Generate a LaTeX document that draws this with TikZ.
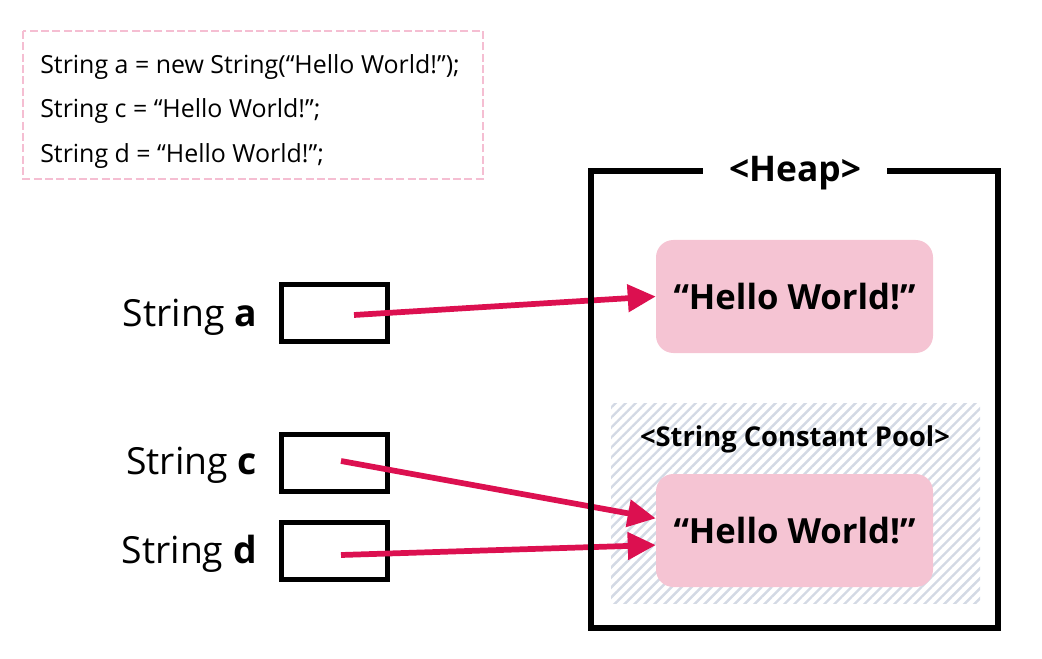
\documentclass[tikz,border=0pt]{standalone}
\usepackage{fontspec}
\setmainfont{Open Sans}
\usetikzlibrary{arrows.meta,patterns.meta}
\definecolor{codepink}{RGB}{245,190,210}
\definecolor{valpink}{RGB}{245,196,211}
\definecolor{refred}{RGB}{220,16,80}
\definecolor{hatchgray}{RGB}{211,217,228}
\tikzset{
  codetxt/.style={anchor=base west, inner sep=0pt, font=\fontsize{18.7}{22}\selectfont},
  vartxt/.style={anchor=base east, inner sep=0pt, font=\fontsize{28}{32}\selectfont},
  varbox/.style={draw, line width=3.75pt, minimum width=79.5pt, minimum height=42.75pt},
  strval/.style={fill=valpink, rounded corners=13pt, minimum width=207.75pt, minimum height=84.75pt, font=\fontsize{26}{32}\selectfont\bfseries},
  refarrow/.style={refred, line width=4.3pt, -{Triangle[length=21pt,width=20pt]}}
}
\begin{document}
\begin{tikzpicture}[x=0.75pt,y=0.75pt,yscale=-1,xscale=1]
\useasboundingbox (0,0) rectangle (1042,659);

%Shape: Rectangle [code box]
\draw [codepink, line width=1.5pt, dash pattern=on 6pt off 2.5pt] (23,31) rectangle (483,179);
% Text Node
\node [codetxt] (codea) at (40,74) {String a = new String(“Hello World!”);};
% Text Node
\node [codetxt] (codec) at (40,118) {String c = “Hello World!”;};
% Text Node
\node [codetxt] (coded) at (40,163) {String d = “Hello World!”;};

%Shape: Rectangle [constant pool]
\path [pattern={Lines[angle=45,distance=5.3pt,line width=1.8pt]}, pattern color=hatchgray] (611,403) rectangle (980,603);
% Text Node
\node [anchor=base, inner sep=0pt, font=\fontsize{20.5}{24}\selectfont\bfseries] (pool) at (795,446) {<String Constant Pool>};

%Shape: Rounded Rectangle [values]
\node [strval] (hello1) at (794.5,296.5) {“Hello World!”};
\node [strval] (hello2) at (794.5,530.5) {“Hello World!”};

%Shape: Rectangle [variables]
\node [varbox] (vara) at (334.5,313) {};
\node [varbox] (varc) at (334.5,462.5) {};
\node [varbox] (vard) at (334.5,550.5) {};
% Text Node
\node [vartxt] (lbla) at (257,326) {String \textbf{a}};
% Text Node
\node [vartxt] (lblc) at (257,474) {String \textbf{c}};
% Text Node
\node [vartxt] (lbld) at (257,563) {String \textbf{d}};

%Straight Lines [references]
\coordinate (pa) at (354,315);
\coordinate (pc) at (341,461);
\coordinate (pd) at (341,555);
\draw [refarrow] (pa) -- (hello1.west);
\draw [refarrow] (pc) -- (hello2.175);
\draw [refarrow] (pd) -- (hello2.186);

%Shape: Rectangle [heap]
\draw [line width=4.5pt] (591,171.5) rectangle (997.5,627.5);
% Text Node
\node [anchor=base, fill=white, minimum width=138pt, inner ysep=2pt, font=\fontsize{26.5}{30}\selectfont\bfseries] (heap) at (795,182) {<Heap>};
\end{tikzpicture}
\end{document}
